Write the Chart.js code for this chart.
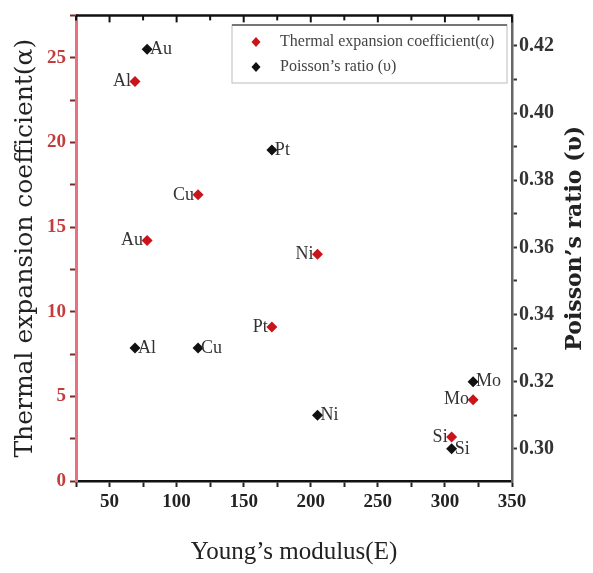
<!DOCTYPE html>
<html>
<head>
<meta charset="utf-8">
<script src="https://cdn.jsdelivr.net/npm/chart.js@4/dist/chart.umd.min.js"></script>
<style>
  body { margin: 0; background: #fff; }
  #wrap { width: 593px; height: 573px; }
</style>
</head>
<body>
<div id="wrap"><canvas id="chart"></canvas></div>
<script>
const materials = ['Al', 'Au', 'Cu', 'Pt', 'Ni', 'Mo', 'Si'];
const modulus = [69, 78, 116, 171, 205, 321, 305];
const thermal = [23.6, 14.2, 16.9, 9.1, 13.4, 4.8, 2.6];
const poisson = [0.33, 0.419, 0.33, 0.389, 0.31, 0.32, 0.30];
const seriesNames = ['Thermal expansion coefficient(\u03b1)', 'Poisson\u2019s ratio (\u03c5)'];

const toPoints = (ys) => modulus.map((x, i) => ({ x: x, y: ys[i] }));

// point names next to markers
const pointLabels = {
  id: 'pointLabels',
  afterDatasetsDraw(chart) {
    const c = chart.ctx;
    c.save();
    c.font = '18px "Liberation Serif"';
    c.fillStyle = '#333';
    c.textBaseline = 'middle';
    chart.data.datasets.forEach((ds, di) => {
      const meta = chart.getDatasetMeta(di);
      meta.data.forEach((el, i) => {
        if (di === 0) {
          c.textAlign = 'right';
          c.fillText(materials[i], el.x - 4, el.y);
        } else {
          c.textAlign = 'left';
          c.fillText(materials[i], el.x + 3, el.y);
        }
      });
    });
    c.restore();
  }
};

// top frame with inward ticks, legend box, right title
const extras = {
  id: 'extras',
  afterDraw(chart) {
    const c = chart.ctx;
    const a = chart.chartArea;
    const xs = chart.scales.x;
    c.save();
    c.strokeStyle = '#111';
    c.lineWidth = 2.5;
    c.beginPath();
    c.moveTo(a.left, a.top);
    c.lineTo(a.right, a.top);
    c.stroke();
    c.lineWidth = 2;
    xs.ticks.forEach((t) => {
      const px = xs.getPixelForValue(t.value);
      const len = t.value % 50 === 0 ? 7 : 5;
      c.beginPath();
      c.moveTo(px, a.top);
      c.lineTo(px, a.top + len);
      c.stroke();
    });

    // legend
    const bx = 232, by = 25, bw = a.right - 5 - 232, bh = 58;
    c.fillStyle = '#fff';
    c.fillRect(bx, by, bw, bh);
    c.strokeStyle = '#bbb';
    c.lineWidth = 1;
    c.strokeRect(bx, by, bw, bh);
    c.strokeStyle = '#555';
    c.lineWidth = 1.5;
    c.beginPath();
    c.moveTo(bx, by);
    c.lineTo(bx + bw, by);
    c.stroke();
    c.font = '16px "Liberation Serif"';
    c.textBaseline = 'middle';
    c.textAlign = 'left';
    chart.data.datasets.forEach((ds, i) => {
      const cy = by + 17 + i * 25;
      const cx = bx + 24;
      c.fillStyle = ds.backgroundColor;
      c.beginPath();
      c.moveTo(cx, cy - 5);
      c.lineTo(cx + 4.5, cy);
      c.lineTo(cx, cy + 5);
      c.lineTo(cx - 4.5, cy);
      c.closePath();
      c.fill();
      c.fillStyle = '#444';
      c.fillText(ds.label, bx + 48, cy);
    });

    // right axis title, reading bottom to top
    c.translate(575, (a.top + a.bottom) / 2 - 10);
    c.rotate(-Math.PI / 2);
    c.font = 'bold 22px "DejaVu Serif"';
    c.fillStyle = '#222';
    c.textAlign = 'center';
    c.fillText(seriesNames[1], 0, 0);
    c.restore();
  }
};

new Chart(document.getElementById('chart'), {
  type: 'scatter',
  data: {
    datasets: [{
      label: seriesNames[0],
      data: toPoints(thermal),
      yAxisID: 'y',
      pointStyle: 'rectRot',
      pointRadius: 5.5,
      backgroundColor: '#c8141a',
      borderColor: '#c8141a',
      borderWidth: 0
    }, {
      label: seriesNames[1],
      data: toPoints(poisson),
      yAxisID: 'y2',
      pointStyle: 'rectRot',
      pointRadius: 5.5,
      backgroundColor: '#111',
      borderColor: '#111',
      borderWidth: 0
    }]
  },
  options: {
    responsive: true,
    maintainAspectRatio: false,
    animation: false,
    layout: { padding: { top: 6, left: 0, right: 0, bottom: 0 } },
    plugins: {
      legend: { display: false },
      tooltip: { enabled: false }
    },
    scales: {
      x: {
        type: 'linear',
        position: 'bottom',
        min: 25,
        max: 350,
        afterFit: (s) => { s.height = 92; },
        border: { display: true, color: '#111', width: 2.5 },
        grid: { drawOnChartArea: false, tickLength: 6, tickColor: '#222', tickWidth: 2 },
        ticks: {
          stepSize: 25,
          includeBounds: false,
          padding: 4,
          maxRotation: 0,
          autoSkip: false,
          color: '#222',
          font: { family: 'Liberation Serif', size: 19, weight: 'bold' },
          callback: (v) => (v % 50 === 0 ? String(v) : '')
        },
        title: {
          display: true,
          text: 'Young\u2019s modulus(E)',
          color: '#222',
          font: { family: 'Liberation Serif', size: 25 },
          padding: { top: 0, bottom: 6 }
        }
      },
      y: {
        type: 'linear',
        position: 'left',
        min: 0,
        max: 27.5,
        afterFit: (s) => { s.width = 76; },
        border: { display: true, color: '#e8707f', width: 3 },
        grid: { drawOnChartArea: false, tickLength: 6, tickColor: '#7a2a2a', tickWidth: 2 },
        ticks: {
          stepSize: 2.5,
          includeBounds: false,
          padding: 4,
          autoSkip: false,
          color: '#c43c3c',
          font: { family: 'Liberation Serif', size: 19, weight: 'bold' },
          callback: (v) => (v % 5 === 0 ? String(v) : '')
        },
        title: {
          display: true,
          text: seriesNames[0],
          color: '#222',
          font: { family: 'DejaVu Serif', size: 25 },
          padding: { top: 10, bottom: 0 }
        }
      },
      y2: {
        type: 'linear',
        position: 'right',
        min: 0.2904,
        max: 0.4291,
        afterFit: (s) => { s.width = 81; },
        border: { display: true, color: '#666', width: 2.5 },
        grid: { drawOnChartArea: false, tickLength: 5, tickColor: '#333', tickWidth: 2 },
        ticks: {
          stepSize: 0.01,
          includeBounds: false,
          padding: 2,
          autoSkip: false,
          color: '#333',
          font: { family: 'Liberation Serif', size: 20, weight: 'bold' },
          callback: (v) => (Math.round(v * 100) % 2 === 0 ? v.toFixed(2) : '')
        }
      }
    }
  },
  plugins: [pointLabels, extras]
});
</script>
</body>
</html>
